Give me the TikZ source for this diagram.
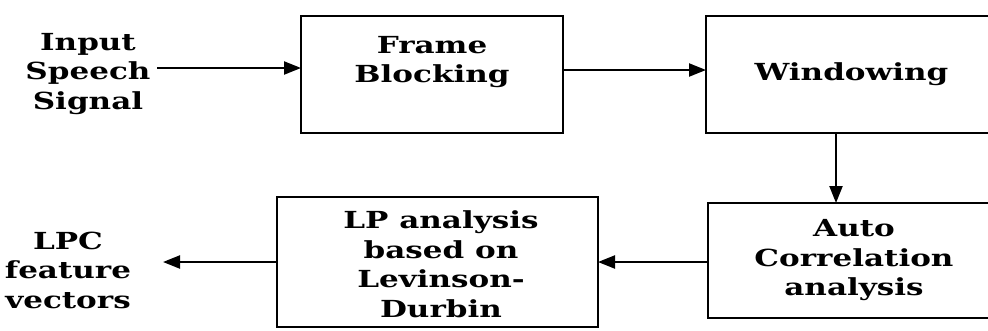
\documentclass[tikz,border=0pt]{standalone}
\usepackage{fontspec}
\setmainfont{DejaVu Serif}[FakeStretch=1.32]
\usetikzlibrary{arrows.meta}
\begin{document}
\begin{tikzpicture}[x=1pt,y=-1pt,
  box/.style={draw, line width=2pt, inner sep=0pt, outer sep=0pt},
  lbl/.style={font=\fontsize{23.5}{29.5}\selectfont\bfseries, align=center, inner sep=0pt},
  arr/.style={line width=2.2pt, -{Triangle[length=17pt,width=13pt]}}]
\useasboundingbox (0,0) rectangle (988,330);
\clip (0,0) rectangle (988,330);
% boxes
\node[box, minimum width=262pt, minimum height=117pt] (frame) at (432,74.5) {};
\node[lbl] (frametext) at (432,62) {Frame\\Blocking};
\node[box, lbl, minimum width=291pt, minimum height=117pt] (win) at (851.5,74.5) {Windowing};
\node[box, lbl, minimum width=292pt, minimum height=115pt] (auto) at (854,260.5) {Auto\\Correlation\\analysis};
\node[box, minimum width=321pt, minimum height=130pt] (lp) at (437.5,262) {};
\node[lbl] (lptext) at (441,264) {LP analysis\\based on\\Levinson-\\Durbin};
% free texts
\node[lbl] (input) at (88,74) {Input\\Speech\\Signal};
\node[lbl] (lpc) at (68,270) {LPC\\feature\\vectors};
% connectors
\coordinate (inS) at (157,68);
\coordinate (fwS) at (563,70);
\coordinate (lpcE) at (163,262);
\draw[arr] (inS) -- (inS -| frame.west);
\draw[arr] (fwS) -- (fwS -| win.west);
\draw[arr] (win.south -| 836,0) -- (auto.north -| 836,0);
\draw[arr] (auto.west |- 0,262) -- (lp.east |- 0,262);
\draw[arr] (lp.west |- lpcE) -- (lpcE);
\end{tikzpicture}
\end{document}
